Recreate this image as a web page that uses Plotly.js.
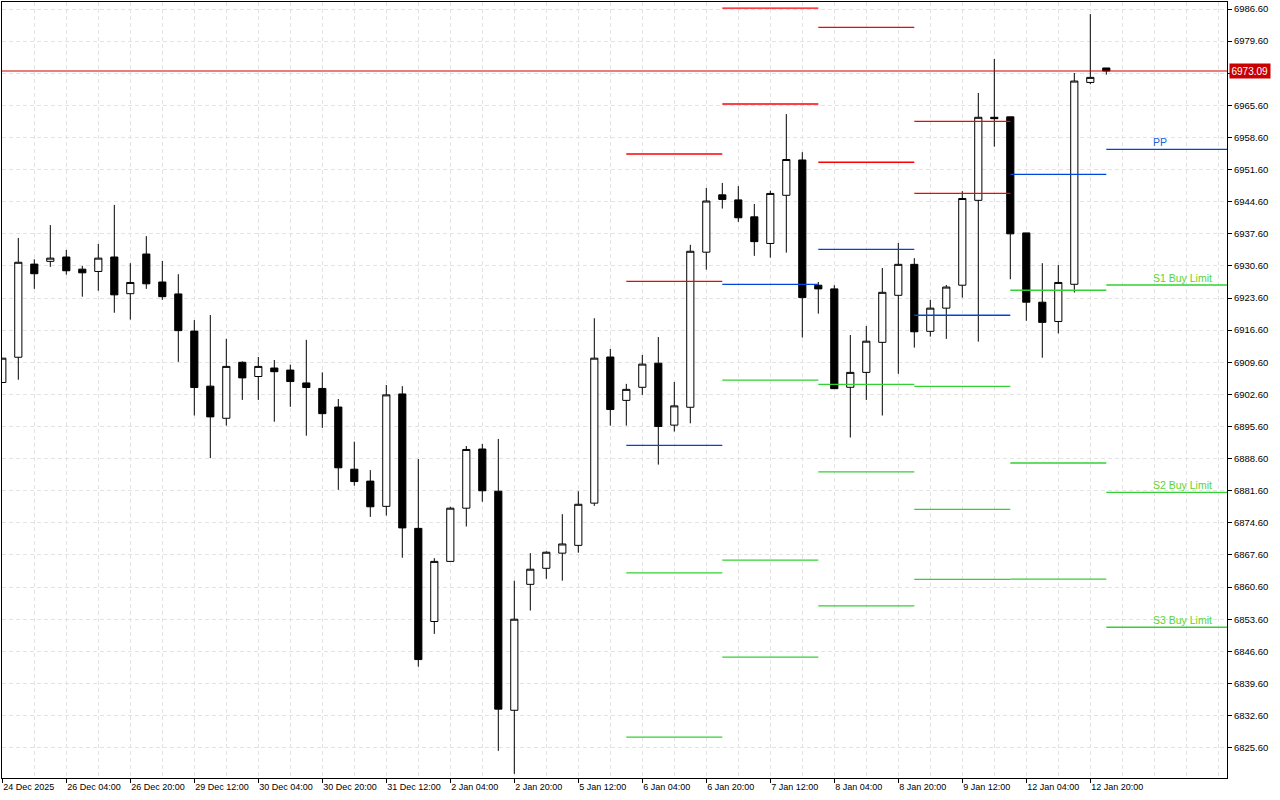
<!DOCTYPE html>
<html>
<head>
<meta charset="utf-8">
<script src="https://cdn.plot.ly/plotly-3.0.1.min.js"></script>
<style>
  html, body { margin: 0; padding: 0; background: #ffffff; }
  #chart { width: 1280px; height: 800px; }
</style>
</head>
<body>
<div id="chart"></div>
<script>
// ---- Data (4H bars, index-based x) ----
const barIndex = Array.from({length: 70}, (_, i) => i);
const openP  = [6905.2,6910.7,6931.0,6931.6,6932.55,6929.9,6929.4,6932.55,6924.55,6933.2,
                6927.1,6924.5,6916.4,6904.4,6897.4,6909.6,6906.5,6908.35,6907.9,6905.1,
                6903.9,6899.85,6886.3,6883.7,6878.2,6902.7,6873.4,6853.1,6866.2,6877.8,
                6890.7,6881.5,6833.75,6861.2,6864.7,6868.0,6869.7,6878.9,6910.75,6901.3,
                6904.15,6909.4,6895.9,6899.8,6933.6,6946.1,6945.0,6941.3,6935.5,6946.0,
                6953.7,6926.4,6925.6,6904.15,6907.4,6913.95,6924.2,6930.95,6916.35,6921.4,
                6926.4,6944.9,6963.0,6963.1,6937.8,6922.7,6918.5,6926.6,6970.6,6973.75];
const highP  = [6910.5,6936.7,6932.05,6939.5,6934.1,6930.6,6935.4,6943.9,6931.2,6937.1,
                6931.7,6928.8,6918.8,6919.9,6914.7,6909.8,6910.75,6910.1,6909.1,6914.5,
                6907.4,6901.6,6892.3,6886.1,6904.65,6904.4,6888.5,6866.9,6878.1,6891.35,
                6891.8,6892.9,6862.0,6868.0,6868.4,6876.5,6881.5,6919.2,6912.5,6904.9,
                6911.2,6915.1,6905.3,6935.2,6947.6,6948.7,6948.0,6944.1,6947.0,6963.7,
                6955.4,6927.1,6926.4,6915.55,6917.5,6930.15,6935.6,6932.3,6923.2,6926.45,
                6946.9,6968.3,6975.7,6963.1,6937.8,6931.2,6930.8,6972.65,6985.5,6973.75];
const lowP   = [6905.2,6905.8,6925.6,6930.4,6928.7,6923.9,6925.2,6920.4,6918.9,6925.6,
                6923.2,6909.7,6898.0,6888.7,6895.8,6901.4,6901.4,6896.65,6899.9,6893.6,
                6895.3,6881.8,6882.7,6875.9,6876.2,6867.0,6843.25,6850.4,6866.2,6873.8,
                6879.2,6824.9,6819.9,6855.5,6862.4,6862.0,6868.1,6878.3,6895.8,6895.8,
                6902.5,6887.3,6894.5,6896.3,6929.8,6943.1,6940.2,6932.8,6932.4,6933.5,
                6915.0,6920.2,6903.8,6893.2,6901.4,6898.0,6907.1,6912.8,6915.2,6914.7,
                6923.7,6914.1,6956.6,6927.7,6918.65,6910.6,6915.9,6924.8,6970.2,6972.3];
const closeP = [6910.5,6931.4,6928.9,6932.3,6929.55,6929.1,6932.3,6924.3,6927.0,6926.7,
                6923.9,6916.5,6904.1,6897.7,6908.7,6906.2,6908.7,6907.55,6905.4,6904.1,
                6898.4,6886.6,6883.6,6878.1,6902.5,6873.5,6844.8,6866.2,6877.8,6890.6,
                6881.6,6834.0,6853.6,6864.5,6868.2,6870.0,6878.65,6910.5,6899.3,6903.7,
                6909.2,6895.6,6900.1,6933.8,6944.75,6945.1,6941.1,6935.9,6946.4,6953.8,
                6923.7,6925.6,6903.85,6907.4,6914.2,6924.85,6930.95,6916.25,6921.4,6926.0,
                6945.3,6963.0,6962.7,6937.6,6922.7,6918.3,6927.0,6970.9,6971.7,6973.09];

// x tick labels (every 4th bar)
const tickIdx    = [0,4,8,12,16,20,24,28,32,36,40,44,48,52,56,60,64,68];
const tickLabels = ["24 Dec 2025","26 Dec 04:00","26 Dec 20:00","29 Dec 12:00","30 Dec 04:00",
                    "30 Dec 20:00","31 Dec 12:00","2 Jan 04:00","2 Jan 20:00","5 Jan 12:00",
                    "6 Jan 04:00","6 Jan 20:00","7 Jan 12:00","8 Jan 04:00","8 Jan 20:00",
                    "9 Jan 12:00","12 Jan 04:00","12 Jan 20:00"];

// Daily pivot levels (segment start/end in bar index)
const pivotStart = [39, 45, 51, 57, 63, 69];
const pivotEnd   = [45, 51, 57, 63, 69, 78];
const levelR2 = [6955.0, 6986.8, 6982.6, 6962.1, null, null];
const levelR1 = [6927.25, 6965.9, 6953.2, 6946.4, null, null];
const levelPP = [6891.5, 6926.6, 6934.2, 6919.85, 6950.55, 6956.0];
const levelS1 = [6863.7, 6905.7, 6904.8, 6904.35, 6925.3, 6926.45];
const levelS2 = [6827.9, 6866.5, 6885.7, 6877.55, 6887.65, 6881.25];
const levelS3 = [null, 6845.35, 6856.5, 6862.3, 6862.35, 6851.85];

const currentPrice = 6973.09;
const levelLabels = ["PP", "S1 Buy Limit", "S2 Buy Limit", "S3 Buy Limit"];

// ---- Build traces ----
const FONT = "Liberation Sans, Arial, sans-serif";
const traces = [];

traces.push({
  type: "candlestick",
  x: barIndex, open: openP, high: highP, low: lowP, close: closeP,
  increasing: {fillcolor: "#ffffff", line: {color: "#000000", width: 1}},
  decreasing: {fillcolor: "#000000", line: {color: "#000000", width: 1}},
  whiskerwidth: 0,
  hoverinfo: "skip",
  showlegend: false
});

function levelTraces(levels, color) {
  const xs = [], ys = [];
  for (let d = 0; d < pivotStart.length; d++) {
    if (levels[d] === null) continue;
    xs.push(pivotStart[d], pivotEnd[d], null);
    ys.push(levels[d], levels[d], null);
  }
  traces.push({type: "scatter", mode: "lines", x: xs, y: ys,
    line: {color: color, width: 1.3}, hoverinfo: "skip", showlegend: false, connectgaps: false});
}
levelTraces(levelR2, "#ff0000");
levelTraces(levelR1, "#ff0000");
levelTraces(levelPP, "#0046d8");
levelTraces(levelS1, "#32d232");
levelTraces(levelS2, "#32d232");
levelTraces(levelS3, "#32d232");

// current price line
traces.push({type: "scatter", mode: "lines", x: [-1, 80], y: [currentPrice, currentPrice],
  line: {color: "#d00000", width: 1.2}, hoverinfo: "skip", showlegend: false});

// ---- Annotations ----
const last = pivotStart.length - 1;
const labelLevels = [levelPP[last], levelS1[last], levelS2[last], levelS3[last]];
const labelColors = ["#2060d8", "#5ed236", "#5ed236", "#5ed236"];
const annotations = labelLevels.map((lv, k) => ({
  x: 72, y: lv, xref: "x", yref: "y", text: levelLabels[k], showarrow: false,
  xanchor: "left", yanchor: "bottom", yshift: -1, xshift: -3,
  font: {family: FONT, size: 10.5, color: labelColors[k]}
}));
annotations.push({
  x: 1, y: currentPrice, xref: "paper", yref: "y", text: currentPrice.toFixed(2),
  showarrow: false, xanchor: "left", yanchor: "middle", xshift: 2,
  bgcolor: "#c80000", borderpad: 1.5,
  font: {family: FONT, size: 10, color: "#ffffff"}
});

const gridColor = "#e3e3e3";
const layout = {
  width: 1280, height: 800,
  margin: {l: 2, r: 53, t: 2, b: 22, pad: 0},
  paper_bgcolor: "#ffffff", plot_bgcolor: "#ffffff",
  showlegend: false,
  boxgap: 0.36,
  font: {family: FONT, size: 9, color: "#000000"},
  xaxis: {
    range: [-0.019, 76.544],
    tickmode: "array", tickvals: tickIdx, ticktext: tickLabels,
    tickangle: 0,
    ticks: "outside", ticklen: 4, tickcolor: "#000000", tickwidth: 1,
    ticklabelposition: "outside right",
    tickfont: {family: FONT, size: 9, color: "#000000"},
    showgrid: true, gridcolor: gridColor, griddash: "4px,3px", gridwidth: 1,
    minor: {tickmode: "linear", tick0: 0, dtick: 2, showgrid: true, gridcolor: gridColor,
            griddash: "4px,3px", gridwidth: 1, ticks: ""},
    showline: true, linecolor: "#000000", linewidth: 1, mirror: true,
    zeroline: false, fixedrange: true,
    rangeslider: {visible: false}
  },
  yaxis: {
    range: [6818.99, 6988.13],
    side: "right",
    tickmode: "linear", tick0: 6825.6, dtick: 7, tickformat: ".2f",
    ticks: "outside", ticklen: 4, tickcolor: "#000000", tickwidth: 1,
    tickfont: {family: FONT, size: 9.5, color: "#000000"},
    showgrid: true, gridcolor: gridColor, griddash: "4px,3px", gridwidth: 1,
    showline: true, linecolor: "#000000", linewidth: 1, mirror: true,
    zeroline: false, fixedrange: true
  },
  annotations: annotations
};

Plotly.newPlot("chart", traces, layout, {displayModeBar: false, staticPlot: true});
</script>
</body>
</html>
